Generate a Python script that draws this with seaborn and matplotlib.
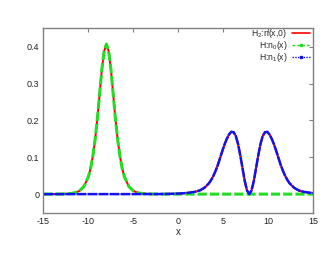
"""
plot.py
=======
Density profiles: H2 total n(x,0) against the two single-well modes n0, n1.
"""

import matplotlib
matplotlib.use('Agg')
import matplotlib.pyplot as plt
from matplotlib.lines import Line2D
import pandas as pd
import seaborn as sns

# =========================================================================
# Data
# =========================================================================
# ground state n0(x), peak near x = -8
n0_x = [-15.0, -14.0, -13.0, -12.0, -11.5, -11.0, -10.5, -10.0, -9.75, -9.5,
        -9.25, -9.0, -8.75, -8.5, -8.25, -8.0, -7.75, -7.5, -7.25, -7.0,
        -6.75, -6.5, -6.25, -6.0, -5.5, -5.0, -4.5, -4.0, -3.0, -2.0, 15.0]
n0_y = [0.0, 0.00005, 0.0003, 0.0016, 0.0037, 0.0087, 0.0206, 0.0473, 0.0707, 0.104,
        0.149, 0.206, 0.273, 0.339, 0.388, 0.407, 0.388, 0.339, 0.273, 0.206,
        0.149, 0.104, 0.0707, 0.0473, 0.0206, 0.0087, 0.0037, 0.0016, 0.0003, 0.0, 0.0]

# first excited state n1(x), two humps around x = 7.9
n1_x = [-15.0, -5.0, -2.1, -1.1, -0.1, 0.4, 0.9, 1.4, 1.9, 2.4, 2.9, 3.4, 3.65,
        3.9, 4.15, 4.4, 4.65, 4.9, 5.15, 5.4, 5.65, 5.9, 6.15, 6.4, 6.65, 6.9,
        7.15, 7.4, 7.65, 7.9, 8.15, 8.4, 8.65, 8.9, 9.15, 9.4, 9.65, 9.9, 10.15,
        10.4, 10.65, 10.9, 11.15, 11.4, 11.65, 11.9, 12.15, 12.4, 12.9, 13.4,
        13.9, 14.4, 14.9, 15.0]
n1_y = [0.0, 0.0, 0.0002, 0.0006, 0.0013, 0.002, 0.003, 0.0045, 0.0065, 0.010,
        0.017, 0.029, 0.038, 0.049, 0.063, 0.079, 0.098, 0.117, 0.135, 0.150,
        0.162, 0.169, 0.168, 0.158, 0.136, 0.105, 0.070, 0.035, 0.010, 0.0,
        0.010, 0.035, 0.070, 0.105, 0.136, 0.158, 0.168, 0.169, 0.162, 0.150,
        0.135, 0.117, 0.098, 0.079, 0.063, 0.049, 0.038, 0.029, 0.017, 0.010,
        0.0065, 0.0045, 0.003, 0.0028]

labels = ['H$_2$:n(x,0)', 'H:n$_0$(x)', 'H:n$_1$(x)']
x_ticks = [-15, -10, -5, 0, 5, 10, 15]
y_ticks = [0, 0.1, 0.2, 0.3, 0.4]

df0 = pd.DataFrame({'x': n0_x, 'y': n0_y})
df1 = pd.DataFrame({'x': n1_x, 'y': n1_y})
# total density: the left well carries n0, the right well carries n1
df_tot = pd.concat([df0[df0.x < -2], df1[df1.x >= -2.1]], ignore_index=True)

# =========================================================================
# Plot
# =========================================================================
sns.set_style('white')
plt.rcParams['font.family'] = ['Liberation Sans', 'DejaVu Sans']
plt.rcParams['axes.unicode_minus'] = False
plt.rcParams['mathtext.fontset'] = 'custom'
plt.rcParams['mathtext.rm'] = 'Liberation Sans'

RED, GREEN, BLUE = '#ff0000', '#22dd22', '#1212ee'

fig = plt.figure(figsize=(3.32, 2.57), dpi=100)
ax = fig.add_axes([0.131, 0.173, 0.812, 0.717])

sns.lineplot(data=df_tot, x='x', y='y', ax=ax, color=RED, lw=1.4,
             sort=False, estimator=None)
sns.lineplot(data=df0, x='x', y='y', ax=ax, color=GREEN, lw=2.2,
             linestyle=(0, (3, 1)), sort=False, estimator=None)
sns.lineplot(data=df1, x='x', y='y', ax=ax, color=BLUE, lw=1.8,
             linestyle=(0, (4, 0.4)), sort=False, estimator=None)

ax.set_xlim(-15, 15)
ax.set_ylim(-0.05, 0.45)
ax.set_xticks(x_ticks)
ax.set_yticks(y_ticks)
ax.set_xticklabels([str(t) for t in x_ticks])
ax.set_yticklabels(['0', '0.1', '0.2', '0.3', '0.4'])
ax.set_xlabel('x', fontsize=7, labelpad=1)
ax.set_ylabel('')

for s in ax.spines.values():
    s.set_color('#808080')
    s.set_linewidth(1.0)
ax.tick_params(direction='in', length=3, width=0.8, color='#808080',
               labelsize=6.5, pad=3, top=True, right=True,
               labelcolor='#222222')

handles = [
    Line2D([], [], color=RED, lw=1.2),
    Line2D([], [], color=GREEN, lw=1.0, linestyle=(0, (2, 1.5)),
           marker='s', markersize=2, markevery=[1]),
    Line2D([], [], color=BLUE, lw=1.0, linestyle=(0, (1, 1)),
           marker='s', markersize=1.5, markevery=[1]),
]
for h in handles[1:]:
    h.set_xdata([0, 0.5, 1])
    h.set_ydata([0, 0, 0])
ax.legend(handles, labels, loc='upper right', frameon=False, fontsize=6.2,
          markerfirst=False, handlelength=2.1, handletextpad=0.5,
          labelspacing=-0.12, borderaxespad=0.0, bbox_to_anchor=(1.0, 1.025))

fig.savefig('out.png', dpi=100)
